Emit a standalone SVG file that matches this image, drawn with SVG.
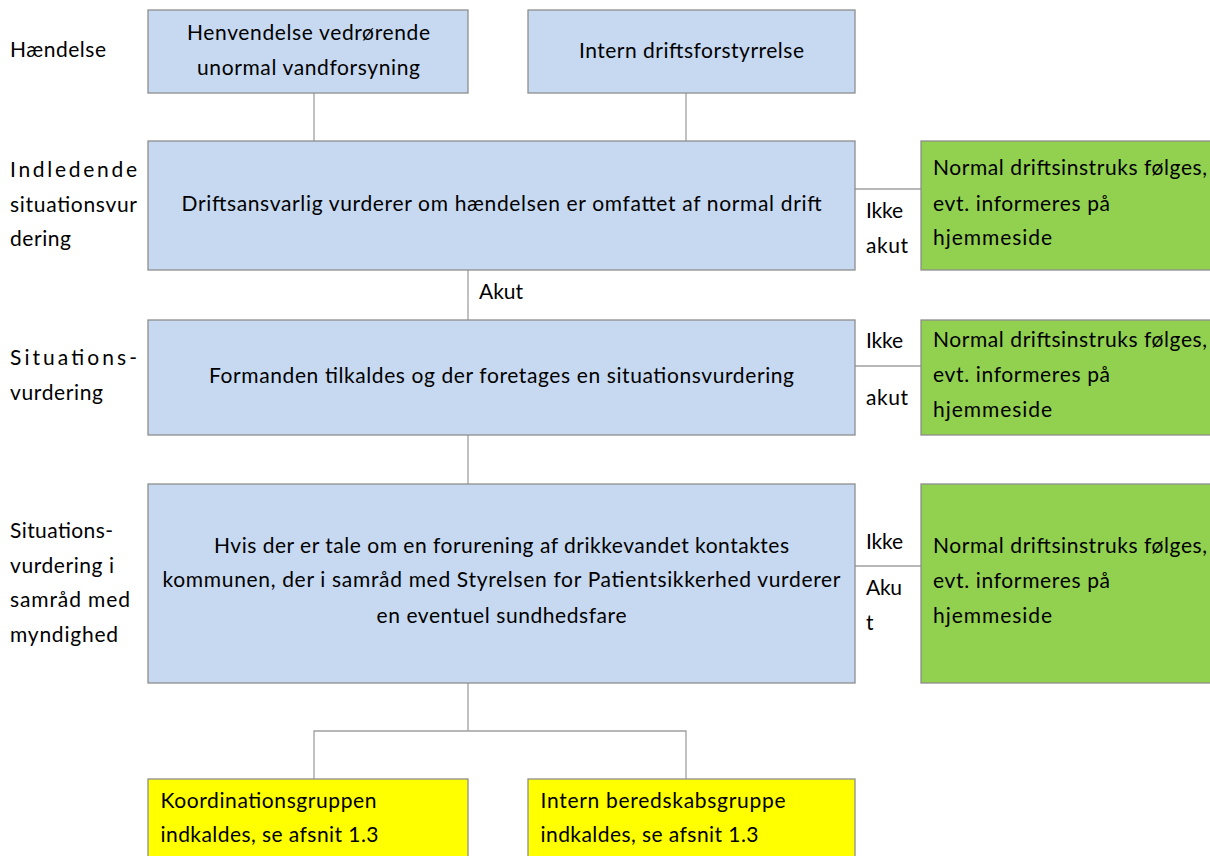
<svg xmlns="http://www.w3.org/2000/svg" width="1210" height="856" viewBox="0 0 1210 856">
<style>
text{font-family:"Lato","Open Sans","Liberation Sans",sans-serif;font-size:21px;fill:#000}
.c{text-anchor:middle}
.blue{fill:#C6D9F0;stroke:#8E8E8E;stroke-width:1.3}
.green{fill:#92D050;stroke:#8E8E8E;stroke-width:1.3}
.yellow{fill:#FFFF00;stroke:#8E8E8E;stroke-width:1.3}
.ln{stroke:#A0A0A0;stroke-width:1.3;fill:none}
</style>
<rect width="1210" height="856" fill="#fff"/>
<g id="connectors">
<path class="ln" d="M314,93V141M686,93V141"/>
<path class="ln" d="M468,270V320"/>
<path class="ln" d="M468,435V484"/>
<path class="ln" d="M468,683V731M314,779V731H686V779"/>
<path class="ln" d="M855,189H921"/>
<path class="ln" d="M855,366H921"/>
<path class="ln" d="M855,566H921"/>
</g>
<g id="labels">
<text x="10" y="57" textLength="96" lengthAdjust="spacing">Hændelse</text>
<text x="10" y="177" textLength="127" lengthAdjust="spacing">Indledende</text>
<text x="10" y="212" textLength="127" lengthAdjust="spacing">situationsvur</text>
<text x="10" y="246" textLength="61" lengthAdjust="spacing">dering</text>
<text x="10" y="365" textLength="127" lengthAdjust="spacing">Situations-</text>
<text x="10" y="400" textLength="93" lengthAdjust="spacing">vurdering</text>
<text x="10" y="538" textLength="103" lengthAdjust="spacing">Situations-</text>
<text x="10" y="573" textLength="104" lengthAdjust="spacing">vurdering i</text>
<text x="10" y="607" textLength="120" lengthAdjust="spacing">samråd med</text>
<text x="10" y="642" textLength="108" lengthAdjust="spacing">myndighed</text>
<text x="479" y="299" textLength="44" lengthAdjust="spacing">Akut</text>
<text x="866" y="218" textLength="37" lengthAdjust="spacing">Ikke</text>
<text x="866" y="253" textLength="42" lengthAdjust="spacing">akut</text>
<text x="866" y="348" textLength="37" lengthAdjust="spacing">Ikke</text>
<text x="866" y="405" textLength="42" lengthAdjust="spacing">akut</text>
<text x="866" y="549" textLength="37" lengthAdjust="spacing">Ikke</text>
<text x="866" y="595" textLength="36" lengthAdjust="spacing">Aku</text>
<text x="866" y="630">t</text>
</g>
<g id="n1">
<rect class="blue" x="148" y="10" width="320" height="83"/>
<text class="c" x="308.5" y="40" textLength="243" lengthAdjust="spacing">Henvendelse vedrørende</text>
<text class="c" x="308.5" y="75" textLength="223" lengthAdjust="spacing">unormal vandforsyning</text>
</g>
<g id="n2">
<rect class="blue" x="528" y="10" width="327" height="83"/>
<text class="c" x="691.5" y="58" textLength="225" lengthAdjust="spacing">Intern driftsforstyrrelse</text>
</g>
<g id="n3">
<rect class="blue" x="148" y="141" width="707" height="129"/>
<text class="c" x="501.5" y="211" textLength="640" lengthAdjust="spacing">Driftsansvarlig vurderer om hændelsen er omfattet af normal drift</text>
</g>
<g id="n4">
<rect class="green" x="921" y="141" width="295" height="129"/>
<text x="933" y="175" textLength="274" lengthAdjust="spacing">Normal driftsinstruks følges,</text>
<text x="933" y="211" textLength="177" lengthAdjust="spacing">evt. informeres på</text>
<text x="933" y="245" textLength="119" lengthAdjust="spacing">hjemmeside</text>
</g>
<g id="n5">
<rect class="blue" x="148" y="320" width="707" height="115"/>
<text class="c" x="501.5" y="383" textLength="585" lengthAdjust="spacing">Formanden tilkaldes og der foretages en situationsvurdering</text>
</g>
<g id="n6">
<rect class="green" x="921" y="320" width="295" height="115"/>
<text x="933" y="347" textLength="274" lengthAdjust="spacing">Normal driftsinstruks følges,</text>
<text x="933" y="382" textLength="177" lengthAdjust="spacing">evt. informeres på</text>
<text x="933" y="417" textLength="119" lengthAdjust="spacing">hjemmeside</text>
</g>
<g id="n7">
<rect class="blue" x="148" y="484" width="707" height="199"/>
<text class="c" x="501.5" y="553" textLength="575" lengthAdjust="spacing">Hvis der er tale om en forurening af drikkevandet kontaktes</text>
<text class="c" x="501.5" y="587" textLength="678" lengthAdjust="spacing">kommunen, der i samråd med Styrelsen for Patientsikkerhed vurderer</text>
<text class="c" x="501.5" y="623" textLength="250" lengthAdjust="spacing">en eventuel sundhedsfare</text>
</g>
<g id="n8">
<rect class="green" x="921" y="484" width="295" height="199"/>
<text x="933" y="553" textLength="274" lengthAdjust="spacing">Normal driftsinstruks følges,</text>
<text x="933" y="588" textLength="177" lengthAdjust="spacing">evt. informeres på</text>
<text x="933" y="623" textLength="119" lengthAdjust="spacing">hjemmeside</text>
</g>
<g id="n9">
<rect class="yellow" x="148" y="779" width="320" height="90"/>
<text x="160.5" y="808" textLength="216" lengthAdjust="spacing">Koordinationsgruppen</text>
<text x="160.5" y="842" textLength="218" lengthAdjust="spacing">indkaldes, se afsnit 1.3</text>
</g>
<g id="n10">
<rect class="yellow" x="528" y="779" width="327" height="90"/>
<text x="540.5" y="808" textLength="245" lengthAdjust="spacing">Intern beredskabsgruppe</text>
<text x="540.5" y="842" textLength="218" lengthAdjust="spacing">indkaldes, se afsnit 1.3</text>
</g>
</svg>
